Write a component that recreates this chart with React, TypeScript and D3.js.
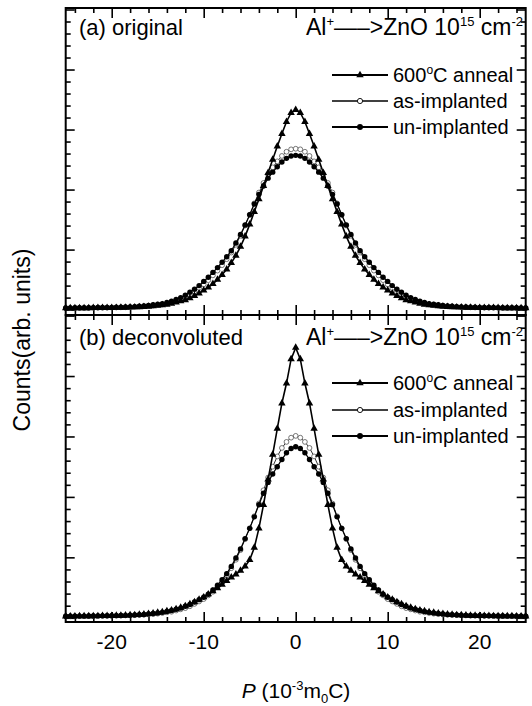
import React, {useEffect, useRef} from "react";
import * as d3 from "d3";

// momentum grid, 10^-3 m0c
const P = [
	-25, -24.5, -24, -23.5, -23, -22.5, -22, -21.5, -21, -20.5,
	-20, -19.5, -19, -18.5, -18, -17.5, -17, -16.5, -16, -15.5,
	-15, -14.5, -14, -13.5, -13, -12.5, -12, -11.5, -11, -10.5,
	-10, -9.5, -9, -8.5, -8, -7.5, -7, -6.5, -6, -5.5,
	-5, -4.5, -4, -3.5, -3, -2.5, -2, -1.5, -1, -0.5,
	0, 0.5, 1, 1.5, 2, 2.5, 3, 3.5, 4, 4.5,
	5, 5.5, 6, 6.5, 7, 7.5, 8, 8.5, 9, 9.5,
	10, 10.5, 11, 11.5, 12, 12.5, 13, 13.5, 14, 14.5,
	15, 15.5, 16, 16.5, 17, 17.5, 18, 18.5, 19, 19.5,
	20, 20.5, 21, 21.5, 22, 22.5, 23, 23.5, 24, 24.5,
	25,
];

// (a) original
const annealOrig = [
	0.025, 0.025, 0.026, 0.026, 0.027, 0.027, 0.028, 0.028, 0.029, 0.030,
	0.031, 0.032, 0.033, 0.035, 0.037, 0.040, 0.043, 0.047, 0.052, 0.058,
	0.065, 0.075, 0.085, 0.10, 0.12, 0.14, 0.16, 0.19, 0.23, 0.27,
	0.32, 0.37, 0.43, 0.50, 0.58, 0.67, 0.78, 0.90, 1.05, 1.22,
	1.42, 1.63, 1.84, 2.06, 2.28, 2.50, 2.72, 2.93, 3.13, 3.28,
	3.33, 3.28, 3.13, 2.93, 2.72, 2.50, 2.28, 2.06, 1.84, 1.63,
	1.42, 1.22, 1.05, 0.90, 0.78, 0.67, 0.58, 0.50, 0.43, 0.37,
	0.32, 0.27, 0.23, 0.19, 0.16, 0.14, 0.12, 0.10, 0.085, 0.075,
	0.065, 0.058, 0.052, 0.047, 0.043, 0.040, 0.037, 0.035, 0.033, 0.032,
	0.031, 0.030, 0.029, 0.028, 0.028, 0.027, 0.027, 0.026, 0.026, 0.025,
	0.025,
];
const asImplOrig = [
	0.025, 0.026, 0.026, 0.027, 0.027, 0.028, 0.029, 0.030, 0.031, 0.032,
	0.033, 0.035, 0.037, 0.039, 0.042, 0.045, 0.050, 0.055, 0.060, 0.065,
	0.075, 0.085, 0.10, 0.12, 0.14, 0.17, 0.21, 0.25, 0.30, 0.36,
	0.42, 0.49, 0.57, 0.65, 0.74, 0.84, 0.95, 1.08, 1.23, 1.40,
	1.58, 1.77, 1.95, 2.11, 2.25, 2.37, 2.47, 2.56, 2.63, 2.67,
	2.68, 2.67, 2.63, 2.56, 2.47, 2.37, 2.25, 2.11, 1.95, 1.77,
	1.58, 1.40, 1.23, 1.08, 0.95, 0.84, 0.74, 0.65, 0.57, 0.49,
	0.42, 0.36, 0.30, 0.25, 0.21, 0.17, 0.14, 0.12, 0.10, 0.085,
	0.075, 0.065, 0.060, 0.055, 0.050, 0.045, 0.042, 0.039, 0.037, 0.035,
	0.033, 0.032, 0.031, 0.030, 0.029, 0.028, 0.027, 0.027, 0.026, 0.026,
	0.025,
];
const unImplOrig = [
	0.028, 0.029, 0.030, 0.030, 0.031, 0.032, 0.033, 0.034, 0.035, 0.036,
	0.037, 0.039, 0.041, 0.043, 0.046, 0.050, 0.055, 0.060, 0.070, 0.080,
	0.09, 0.10, 0.12, 0.14, 0.17, 0.20, 0.24, 0.29, 0.34, 0.40,
	0.47, 0.54, 0.62, 0.70, 0.79, 0.88, 0.98, 1.11, 1.25, 1.41,
	1.58, 1.76, 1.92, 2.06, 2.19, 2.29, 2.38, 2.46, 2.52, 2.56,
	2.57, 2.56, 2.52, 2.46, 2.38, 2.29, 2.19, 2.06, 1.92, 1.76,
	1.58, 1.41, 1.25, 1.11, 0.98, 0.88, 0.79, 0.70, 0.62, 0.54,
	0.47, 0.40, 0.34, 0.29, 0.24, 0.20, 0.17, 0.14, 0.12, 0.10,
	0.09, 0.08, 0.07, 0.06, 0.055, 0.050, 0.046, 0.043, 0.041, 0.039,
	0.037, 0.036, 0.035, 0.034, 0.033, 0.032, 0.031, 0.030, 0.030, 0.029,
	0.028,
];

// (b) deconvoluted
const annealDeconv = [
	0.025, 0.026, 0.026, 0.027, 0.027, 0.028, 0.029, 0.030, 0.031, 0.032,
	0.033, 0.035, 0.037, 0.040, 0.043, 0.047, 0.052, 0.058, 0.065, 0.075,
	0.085, 0.095, 0.11, 0.125, 0.145, 0.17, 0.195, 0.225, 0.26, 0.30,
	0.34, 0.39, 0.44, 0.49, 0.55, 0.61, 0.67, 0.72, 0.78, 0.85,
	0.96, 1.16, 1.48, 1.87, 2.29, 2.70, 3.13, 3.55, 3.88, 4.28,
	4.47, 4.28, 3.88, 3.55, 3.13, 2.70, 2.29, 1.87, 1.48, 1.16,
	0.96, 0.85, 0.78, 0.72, 0.67, 0.61, 0.55, 0.49, 0.44, 0.39,
	0.34, 0.30, 0.26, 0.225, 0.195, 0.17, 0.145, 0.125, 0.11, 0.095,
	0.085, 0.075, 0.065, 0.058, 0.052, 0.047, 0.043, 0.040, 0.037, 0.035,
	0.033, 0.032, 0.031, 0.030, 0.029, 0.028, 0.027, 0.027, 0.026, 0.026,
	0.025,
];
const asImplDeconv = [
	0.025, 0.025, 0.026, 0.027, 0.027, 0.028, 0.029, 0.030, 0.031, 0.032,
	0.033, 0.034, 0.036, 0.038, 0.040, 0.043, 0.046, 0.050, 0.054, 0.060,
	0.068, 0.078, 0.09, 0.10, 0.12, 0.14, 0.16, 0.19, 0.23, 0.27,
	0.31, 0.37, 0.43, 0.51, 0.60, 0.70, 0.82, 0.96, 1.12, 1.30,
	1.48, 1.68, 1.89, 2.11, 2.32, 2.50, 2.67, 2.81, 2.91, 2.98,
	3.01, 2.98, 2.91, 2.81, 2.67, 2.50, 2.32, 2.11, 1.89, 1.68,
	1.48, 1.30, 1.12, 0.96, 0.82, 0.70, 0.60, 0.51, 0.43, 0.37,
	0.31, 0.27, 0.23, 0.19, 0.16, 0.14, 0.12, 0.10, 0.09, 0.078,
	0.068, 0.060, 0.054, 0.050, 0.046, 0.043, 0.040, 0.038, 0.036, 0.034,
	0.033, 0.032, 0.031, 0.030, 0.029, 0.028, 0.027, 0.027, 0.026, 0.025,
	0.025,
];
const unImplDeconv = [
	0.026, 0.027, 0.027, 0.028, 0.028, 0.029, 0.030, 0.031, 0.032, 0.033,
	0.034, 0.036, 0.038, 0.040, 0.042, 0.046, 0.050, 0.055, 0.062, 0.070,
	0.08, 0.09, 0.105, 0.12, 0.14, 0.16, 0.19, 0.22, 0.26, 0.30,
	0.34, 0.39, 0.46, 0.54, 0.63, 0.73, 0.85, 0.99, 1.14, 1.31,
	1.48, 1.67, 1.87, 2.06, 2.24, 2.38, 2.50, 2.62, 2.73, 2.80,
	2.83, 2.80, 2.73, 2.62, 2.50, 2.38, 2.24, 2.06, 1.87, 1.67,
	1.48, 1.31, 1.14, 0.99, 0.85, 0.73, 0.63, 0.54, 0.46, 0.39,
	0.34, 0.30, 0.26, 0.22, 0.19, 0.16, 0.14, 0.12, 0.105, 0.09,
	0.08, 0.07, 0.062, 0.055, 0.050, 0.046, 0.042, 0.040, 0.038, 0.036,
	0.034, 0.033, 0.032, 0.031, 0.030, 0.029, 0.028, 0.028, 0.027, 0.027,
	0.026,
];

const xMajor = [-20, -10, 0, 10, 20];
const panelLabels = ["(a) original", "(b) deconvoluted"];

const W = 532;
const H = 706;
const FONT = "'Liberation Sans', Arial, Helvetica, sans-serif";

type Part = {t: string; dy?: number; size?: number; italic?: boolean};

// write a text with super/subscripts made of tspans
function richText(
	sel: d3.Selection<any, unknown, null, undefined>,
	x: number,
	y: number,
	parts: Part[],
	anchor: string,
	size: number,
) {
	const t = sel
		.append("text")
		.attr("x", x)
		.attr("y", y)
		.attr("text-anchor", anchor)
		.attr("font-family", FONT)
		.attr("font-size", size)
		.attr("fill", "#000");
	parts.forEach((p) => {
		const s = t.append("tspan").text(p.t);
		if (p.dy) s.attr("dy", p.dy);
		if (p.size) s.attr("font-size", p.size);
		if (p.italic) s.attr("font-style", "italic");
	});
	return t;
}

export default function App() {
	const svgRef = useRef<SVGSVGElement>(null);

	useEffect(() => {
		const svg = d3.select(svgRef.current);
		svg.selectAll("*").remove();
		svg.append("rect").attr("width", W).attr("height", H).attr("fill", "#fff");

		const x = d3.scaleLinear().domain([-25, 25]).range([65.7, 525.7]);

		const panels = [
			{
				top: 8,
				bottom: 315,
				domain: [-0.09, 5.025],
				anneal: annealOrig,
				asImpl: asImplOrig,
				unImpl: unImplOrig,
				legendY: [75, 101, 127],
				textY: 35,
			},
			{
				top: 315,
				bottom: 622,
				domain: [-0.07, 5.01],
				anneal: annealDeconv,
				asImpl: asImplDeconv,
				unImpl: unImplDeconv,
				legendY: [383, 410, 436],
				textY: 345,
			},
		];

		const xMinor = d3.range(-24, 25, 2).filter((v) => !xMajor.includes(v));
		const yMinor = d3.range(0, 5.01, 0.2).filter((v) => Math.abs(v - Math.round(v)) > 0.01);
		const yMajor = [0, 1, 2, 3, 4, 5];

		panels.forEach((pn, i) => {
			const y = d3.scaleLinear().domain(pn.domain).range([pn.bottom, pn.top]);
			const g = svg.append("g");

			const addAxis = (axis: any, transform: string) => {
				const a = g.append("g").attr("transform", transform).call(axis);
				a.select(".domain").remove();
				a.selectAll("text").remove();
				a.selectAll("line").attr("stroke", "#000").attr("stroke-width", 1.6);
			};
			// inward ticks on all four sides
			addAxis(d3.axisBottom(x).tickValues(xMinor).tickSize(-5), `translate(0,${pn.bottom})`);
			addAxis(d3.axisBottom(x).tickValues(xMajor).tickSize(-10), `translate(0,${pn.bottom})`);
			addAxis(d3.axisTop(x).tickValues(xMinor).tickSize(-5), `translate(0,${pn.top})`);
			addAxis(d3.axisTop(x).tickValues(xMajor).tickSize(-10), `translate(0,${pn.top})`);
			addAxis(d3.axisLeft(y).tickValues(yMinor).tickSize(-5), `translate(${x(-25)},0)`);
			addAxis(d3.axisLeft(y).tickValues(yMajor).tickSize(-9), `translate(${x(-25)},0)`);
			addAxis(d3.axisRight(y).tickValues(yMinor).tickSize(-5), `translate(${x(25)},0)`);
			addAxis(d3.axisRight(y).tickValues(yMajor).tickSize(-9), `translate(${x(25)},0)`);

			const line = d3
				.line<number>()
				.x((_, k) => x(P[k]))
				.y((d) => y(d));

			// as-implanted: open circles
			g.append("path")
				.attr("d", line(pn.asImpl))
				.attr("fill", "none")
				.attr("stroke", "#000")
				.attr("stroke-width", 0.8);
			g.append("g")
				.selectAll("circle")
				.data(pn.asImpl)
				.enter()
				.append("circle")
				.attr("cx", (_, k) => x(P[k]))
				.attr("cy", (d) => y(d))
				.attr("r", 2.4)
				.attr("fill", "#fff")
				.attr("stroke", "#555")
				.attr("stroke-width", 0.8);

			// un-implanted: filled circles
			g.append("path")
				.attr("d", line(pn.unImpl))
				.attr("fill", "none")
				.attr("stroke", "#000")
				.attr("stroke-width", 1.2);
			g.append("g")
				.selectAll("circle")
				.data(pn.unImpl)
				.enter()
				.append("circle")
				.attr("cx", (_, k) => x(P[k]))
				.attr("cy", (d) => y(d))
				.attr("r", 2.7)
				.attr("fill", "#000");

			// 600C anneal: filled triangles
			const tri = d3.symbol().type(d3.symbolTriangle).size(24);
			g.append("path")
				.attr("d", line(pn.anneal))
				.attr("fill", "none")
				.attr("stroke", "#000")
				.attr("stroke-width", 1.6);
			g.append("g")
				.selectAll("path")
				.data(pn.anneal)
				.enter()
				.append("path")
				.attr("d", tri() as string)
				.attr("transform", (d, k) => `translate(${x(P[k])},${y(d)})`)
				.attr("fill", "#000");

			// legend
			const legend = [
				{parts: [{t: "600"}, {t: "o", dy: -8, size: 12}, {t: "C anneal", dy: 8}], mk: "tri", sw: 2.2},
				{parts: [{t: "as-implanted"}], mk: "open", sw: 1.3},
				{parts: [{t: "un-implanted"}], mk: "dot", sw: 2.2},
			];
			legend.forEach((it, j) => {
				const ly = pn.legendY[j];
				g.append("line")
					.attr("x1", 332)
					.attr("x2", 388)
					.attr("y1", ly)
					.attr("y2", ly)
					.attr("stroke", "#000")
					.attr("stroke-width", it.sw);
				if (it.mk === "tri") {
					g.append("path").attr("d", tri() as string).attr("transform", `translate(360,${ly})`).attr("fill", "#000");
				} else if (it.mk === "open") {
					g.append("circle").attr("cx", 360).attr("cy", ly).attr("r", 2.6).attr("fill", "#fff").attr("stroke", "#000").attr("stroke-width", 0.9);
				} else {
					g.append("circle").attr("cx", 360).attr("cy", ly).attr("r", 3).attr("fill", "#000");
				}
				richText(g, 393, ly + 7, it.parts, "start", 20);
			});

			// panel label and sample label
			richText(g, 79, pn.textY, [{t: panelLabels[i]}], "start", 22);
			richText(
				g,
				523,
				pn.textY,
				[
					{t: "Al"},
					{t: "+", dy: -9, size: 13},
					{t: "\u2014\u2013>ZnO 10", dy: 9},
					{t: "15", dy: -9, size: 13},
					{t: " cm", dy: 9},
					{t: "-2", dy: -9, size: 13},
				],
				"end",
				23,
			);

			// frame
			g.append("rect")
				.attr("x", x(-25))
				.attr("y", pn.top)
				.attr("width", x(25) - x(-25))
				.attr("height", pn.bottom - pn.top)
				.attr("fill", "none")
				.attr("stroke", "#000")
				.attr("stroke-width", 2);
		});

		// x tick labels under the lower panel
		svg.append("g")
			.selectAll("text")
			.data(xMajor)
			.enter()
			.append("text")
			.attr("x", (d) => x(d))
			.attr("y", 649)
			.attr("text-anchor", "middle")
			.attr("font-family", FONT)
			.attr("font-size", 21)
			.text((d) => `${d}`);

		// axis titles
		richText(
			svg as any,
			296,
			698,
			[
				{t: "P", italic: true},
				{t: " (10"},
				{t: "-3", dy: -8, size: 13},
				{t: "m", dy: 8},
				{t: "0", dy: 5, size: 13},
				{t: "C)", dy: -5},
			],
			"middle",
			21,
		);
		svg.append("text")
			.attr("transform", "translate(30,340) rotate(-90)")
			.attr("text-anchor", "middle")
			.attr("font-family", FONT)
			.attr("font-size", 23)
			.text("Counts(arb. units)");
	}, []);

	return <svg ref={svgRef} width={W} height={H} style={{position: "absolute", left: 0, top: 0}} />;
}
